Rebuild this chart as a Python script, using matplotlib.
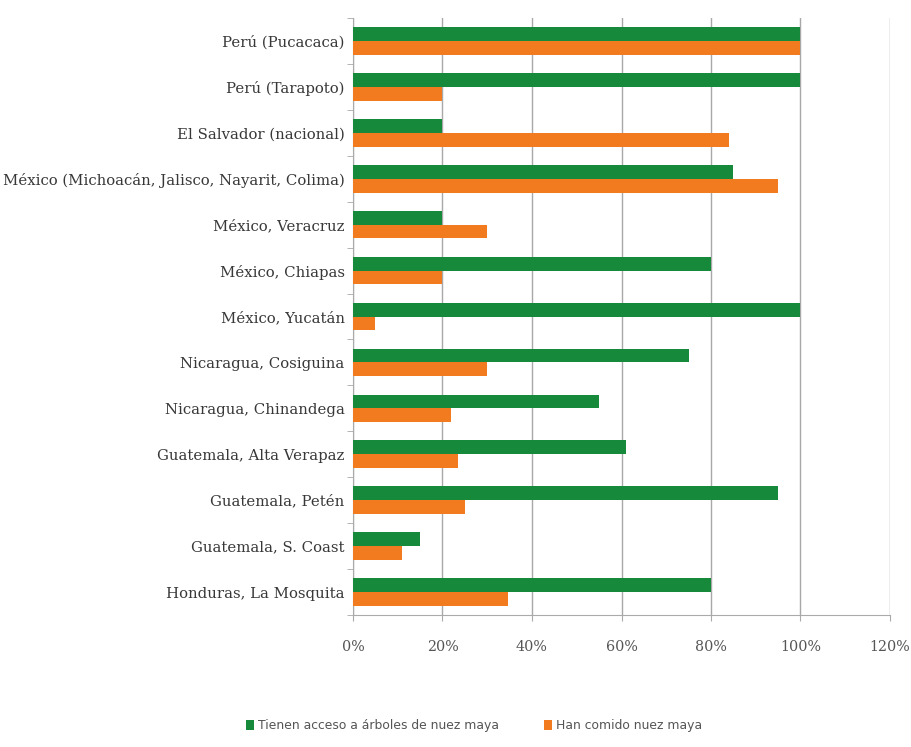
import numpy as np
import matplotlib.pyplot as plt
from matplotlib.ticker import FuncFormatter

regions = ['Perú (Pucacaca)', 'Perú (Tarapoto)', 'El Salvador (nacional)',
           'México (Michoacán, Jalisco, Nayarit, Colima)', 'México, Veracruz',
           'México, Chiapas', 'México, Yucatán', 'Nicaragua, Cosiguina',
           'Nicaragua, Chinandega', 'Guatemala, Alta Verapaz', 'Guatemala, Petén',
           'Guatemala, S. Coast', 'Honduras, La Mosquita']
acceso = [100, 100, 20, 85, 20, 80, 100, 75, 55, 61, 95, 15, 80]
comido = [100, 20, 84, 95, 30, 20, 5, 30, 22, 23.5, 25, 11, 34.6]
x_ticks = [0, 20, 40, 60, 80, 100, 120]

green = '#17893a'
orange = '#f27a1f'
serif = 'DejaVu Serif'

fig = plt.figure(figsize=(9.12, 7.47), dpi=100)
ax = fig.add_axes([353 / 912, 1 - 615 / 747, (890 - 353) / 912, 597 / 747])

y = np.arange(len(regions))
h = 0.3
ax.barh(y - h / 2, acceso, height=h, color=green, label='Tienen acceso a árboles de nuez maya', zorder=3)
ax.barh(y + h / 2, comido, height=h, color=orange, label='Han comido nuez maya', zorder=3)

ax.set_ylim(len(regions) - 0.5, -0.5)
ax.set_xlim(0, 120)
ax.set_xticks(x_ticks)
ax.xaxis.set_major_formatter(FuncFormatter(lambda v, p: f'{v:.0f}%'))
ax.set_yticks(y)
ax.set_yticklabels(regions, family=serif, fontsize=10.7, color='#383838')
ax.set_yticks(np.arange(-0.5, len(regions), 1), minor=True)
ax.tick_params(axis='y', which='major', length=0, pad=6)
ax.tick_params(axis='y', which='minor', length=4, color='#aaaaaa')
ax.tick_params(axis='x', length=4, color='#aaaaaa', pad=14, labelsize=10.3, labelcolor='#555555')
for t in ax.get_xticklabels():
    t.set_family(serif)

ax.grid(axis='x', color='#a8a8a8', linewidth=1, zorder=0)
for s in ['top', 'right']:
    ax.spines[s].set_visible(False)
for s in ['left', 'bottom']:
    ax.spines[s].set_color('#aaaaaa')

leg = fig.legend(loc='center', bbox_to_anchor=(474 / 912, 1 - 726 / 747), ncol=2, frameon=False,
                 handlelength=0.7, handleheight=0.9, handletextpad=0.3, columnspacing=3.6,
                 prop={'family': 'DejaVu Sans', 'size': 8.9})
for t in leg.get_texts():
    t.set_color('#555555')

fig.savefig('out.png', dpi=100, facecolor='white')
